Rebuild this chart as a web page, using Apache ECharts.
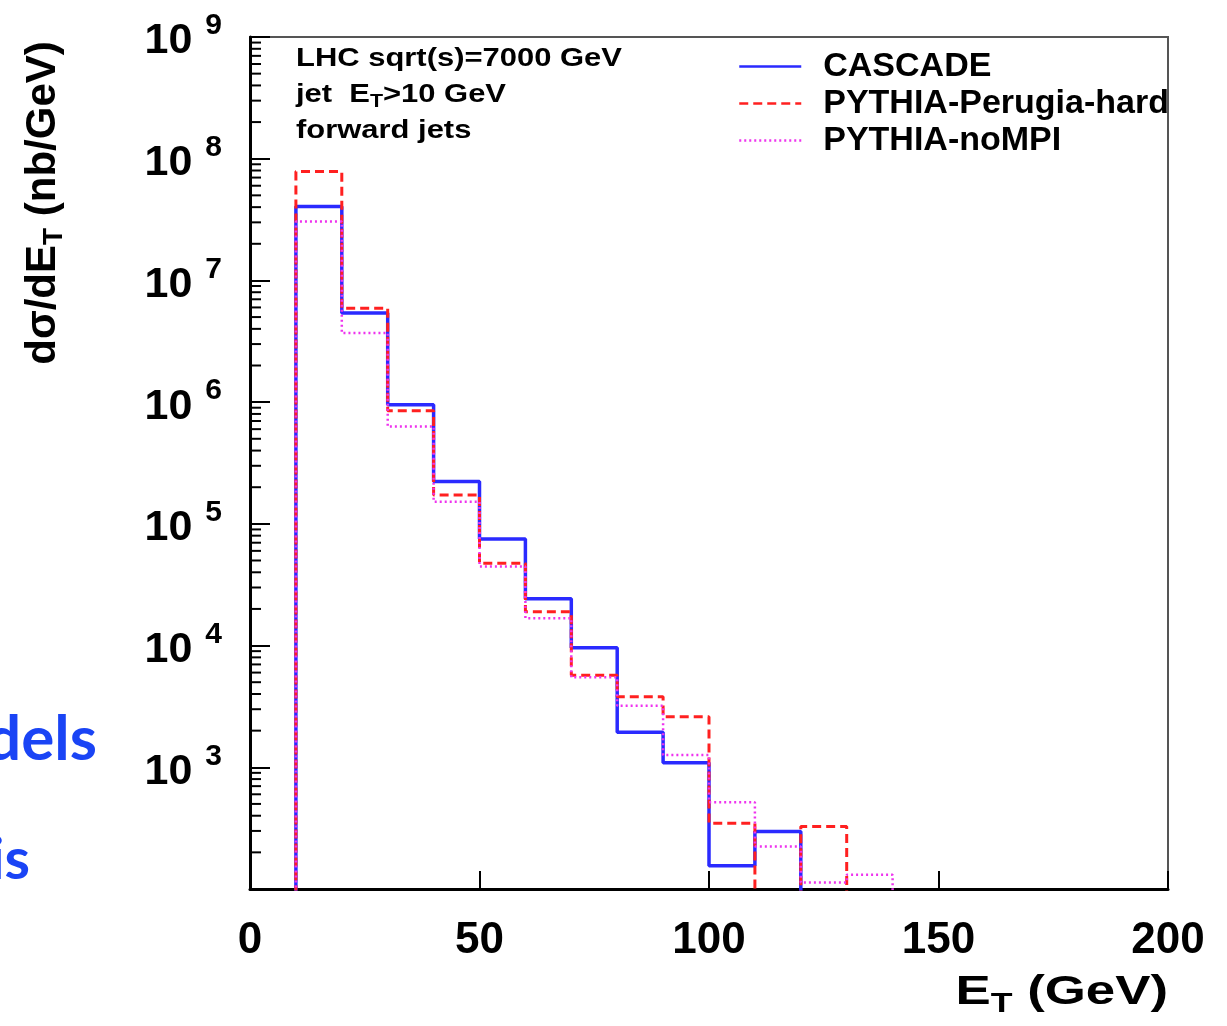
<!DOCTYPE html>
<html>
<head>
<meta charset="utf-8">
<script src="https://cdn.jsdelivr.net/npm/echarts@6/dist/echarts.min.js"></script>
<style>
html,body{margin:0;padding:0;background:#fff;}
#chart{width:1227px;height:1026px;}
</style>
</head>
<body>
<div id="chart"></div>
<script>
// ---- data ----
const binEdges = [10, 20, 30, 40, 50, 60, 70, 80, 90, 100, 110, 120, 130, 140];
const cascade  = [4.05e7, 5.4e6, 9.5e5, 2.23e5, 7.5e4, 2.42e4, 9.6e3, 1.94e3, 1.09e3, 155, 297, 0, 0];
const perugia  = [7.85e7, 5.9e6, 8.5e5, 1.73e5, 4.75e4, 1.9e4, 5.7e3, 3.8e3, 2.6e3, 347, 0, 326, 0];
const noMPI    = [3.05e7, 3.7e6, 6.3e5, 1.52e5, 4.46e4, 1.68e4, 5.5e3, 3.2e3, 1.26e3, 516, 223, 113, 131];
const seriesNames = ['CASCADE', 'PYTHIA-Perugia-hard', 'PYTHIA-noMPI'];
const xTicks = [0, 50, 100, 150, 200];
const yDecades = [2, 3, 4, 5, 6, 7, 8, 9];

// empty bins are drawn below the axis floor and clipped
const FLOOR = 1;
function histPoints(vals) {
  const pts = [[binEdges[0], FLOOR]];
  vals.forEach((v, i) => pts.push([binEdges[i], v > 0 ? v : FLOOR]));
  pts.push([binEdges[binEdges.length - 1], FLOOR]);
  return pts;
}
const minorTicks = [];
for (let i = 0; i < yDecades.length - 1; i++) {
  for (let m = 2; m <= 9; m++) minorTicks.push([0, m * Math.pow(10, yDecades[i])]);
}

const FONT = '"Liberation Sans", Arial, Helvetica, sans-serif';
const chart = echarts.init(document.getElementById('chart'));
chart.setOption({
  backgroundColor: '#fff',
  animation: false,
  grid: { left: 250, right: 59, top: 37, bottom: 137, show: true, borderColor: '#555', borderWidth: 2 },
  legend: {
    data: seriesNames,
    orient: 'vertical',
    left: 738, top: 48, padding: 0,
    itemWidth: 62, itemHeight: 14, itemGap: 0,
    itemStyle: { opacity: 0 },
    lineStyle: { width: 2.5 },
    textStyle: { fontFamily: FONT, fontSize: 34, fontWeight: 'bold', color: '#000', lineHeight: 37, padding: [0, 0, 0, 17] }
  },
  xAxis: {
    type: 'value', min: xTicks[0], max: xTicks[xTicks.length - 1], interval: 50,
    axisLine: { lineStyle: { color: '#000', width: 3 } },
    axisTick: { inside: true, length: 18, lineStyle: { color: '#000', width: 2 } },
    splitLine: { show: false },
    axisLabel: { fontFamily: FONT, fontSize: 44, fontWeight: 'bold', color: '#000', margin: 30 }
  },
  yAxis: {
    type: 'log', logBase: 10,
    min: Math.pow(10, yDecades[0]), max: Math.pow(10, yDecades[yDecades.length - 1]),
    axisLine: { lineStyle: { color: '#000', width: 3 } },
    axisTick: { inside: true, length: 20, lineStyle: { color: '#000', width: 2 } },
    splitLine: { show: false },
    axisLabel: {
      margin: 28,
      formatter: function (v) {
        const e = Math.round(Math.log10(v));
        if (e === yDecades[0]) return '';
        return '{b|10}{s|' + e + '}';
      },
      rich: {
        b: { fontFamily: FONT, fontSize: 43, fontWeight: 'bold', color: '#000', verticalAlign: 'bottom' },
        s: { fontFamily: FONT, fontSize: 30, fontWeight: 'bold', color: '#000', verticalAlign: 'bottom', padding: [0, 0, 22, 13] }
      }
    }
  },
  series: [
    { name: seriesNames[0], type: 'line', step: 'end', data: histPoints(cascade), symbol: 'none', clip: true,
      lineStyle: { color: '#2a2aff', width: 3.5 }, itemStyle: { color: '#2a2aff' } },
    { name: seriesNames[1], type: 'line', step: 'end', data: histPoints(perugia), symbol: 'none', clip: true,
      lineStyle: { color: '#ff2020', width: 3, type: [9, 5] }, itemStyle: { color: '#ff2020' } },
    { name: seriesNames[2], type: 'line', step: 'end', data: histPoints(noMPI), symbol: 'none', clip: true,
      lineStyle: { color: '#ee33ee', width: 2.5, type: [2, 3] }, itemStyle: { color: '#ee33ee' } },
    { type: 'custom', silent: true, data: minorTicks, clip: false,
      renderItem: function (params, api) {
        const p = api.coord([api.value(0), api.value(1)]);
        return { type: 'line', shape: { x1: p[0], y1: p[1], x2: p[0] + 11, y2: p[1] },
                 style: { stroke: '#000', lineWidth: 2 } };
      } }
  ],
  graphic: [
    { type: 'text', x: 43, y: 203, rotation: Math.PI / 2,
      style: { text: '{m|dσ/dE}{sub|T}{m| (nb/GeV)}', align: 'center', verticalAlign: 'middle',
        rich: { m: { fontFamily: FONT, fontSize: 42, fontWeight: 'bold', fill: '#000' },
                sub: { fontFamily: FONT, fontSize: 28, fontWeight: 'bold', fill: '#000', padding: [22, 0, 0, 0] } } } },
    { type: 'text', x: 1168, y: 993, scaleX: 1.32,
      style: { text: '{m|E}{sub|T}{m| (GeV)}', align: 'right', verticalAlign: 'middle',
        rich: { m: { fontFamily: FONT, fontSize: 40, fontWeight: 'bold', fill: '#000' },
                sub: { fontFamily: FONT, fontSize: 27, fontWeight: 'bold', fill: '#000', padding: [24, 0, 0, 0] } } } },
    { type: 'text', x: 296, y: 59, scaleX: 1.19,
      style: { text: 'LHC sqrt(s)=7000 GeV', fontFamily: FONT, fontSize: 26, fontWeight: 'bold', fill: '#000', align: 'left', verticalAlign: 'middle' } },
    { type: 'text', x: 296, y: 95, scaleX: 1.19,
      style: { text: '{m|jet  E}{sub|T}{m|>10 GeV}', align: 'left', verticalAlign: 'middle',
        rich: { m: { fontFamily: FONT, fontSize: 26, fontWeight: 'bold', fill: '#000' },
                sub: { fontFamily: FONT, fontSize: 18, fontWeight: 'bold', fill: '#000', padding: [14, 0, 0, 0] } } } },
    { type: 'text', x: 296, y: 131, scaleX: 1.19,
      style: { text: 'forward jets', fontFamily: FONT, fontSize: 26, fontWeight: 'bold', fill: '#000', align: 'left', verticalAlign: 'middle' } },
    { type: 'text', x: 97, y: 740,
      style: { text: 'dels', fontFamily: 'Lato, "Open Sans", sans-serif', fontSize: 62, fontWeight: 'bold', fill: '#1a44f5', align: 'right', verticalAlign: 'middle' } },
    { type: 'text', x: 30, y: 860,
      style: { text: 'is', fontFamily: 'Lato, "Open Sans", sans-serif', fontSize: 58, fontWeight: 'bold', fill: '#1a44f5', align: 'right', verticalAlign: 'middle' } }
  ]
});
</script>
</body>
</html>
